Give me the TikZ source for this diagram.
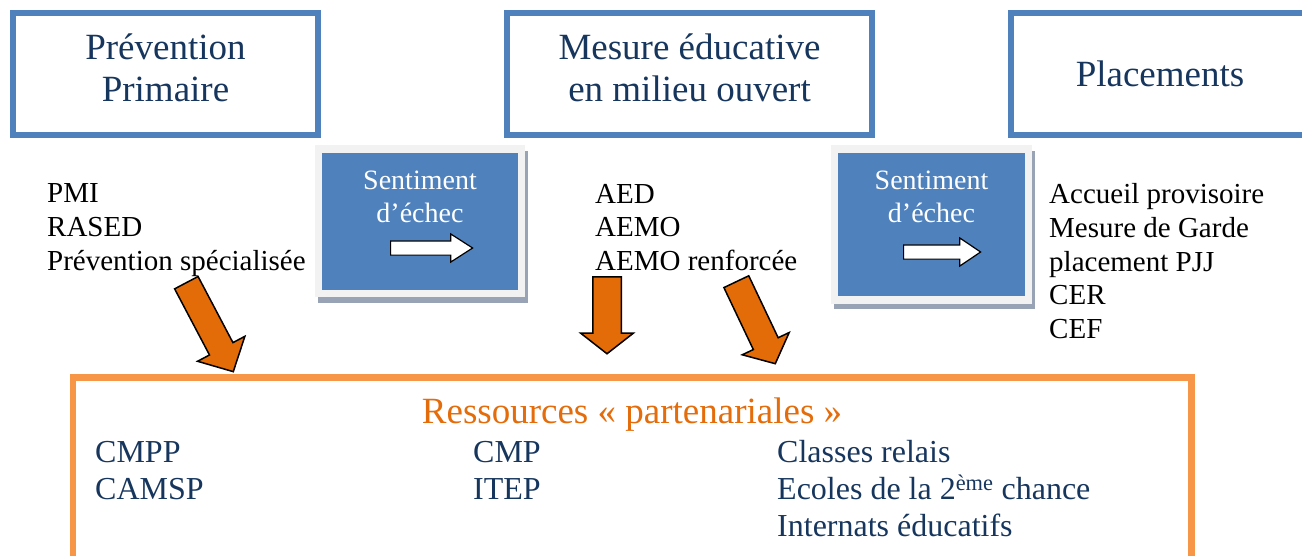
\documentclass[tikz,border=0pt]{standalone}
\usepackage{fontspec}
\setmainfont{Liberation Serif}
\usepackage{tikz}
\usetikzlibrary{shapes.arrows, positioning}

\definecolor{boxblue}{HTML}{4F81BD}
\definecolor{navy}{HTML}{17365D}
\definecolor{framegray}{HTML}{F2F2F2}
\definecolor{shadowgray}{HTML}{98A4B6}
\definecolor{resorange}{HTML}{F79646}
\definecolor{titleorange}{HTML}{E46C0A}
\definecolor{arroworange}{HTML}{E36C09}

\begin{document}
\begin{tikzpicture}[x=1pt, y=-1pt,
        topbox/.style={draw=boxblue, line width=6pt, text=navy, align=center, minimum height=122pt, font=\fontsize{37}{42}\selectfont},
        sentbox/.style={fill=boxblue, inner sep=0pt},
        senttext/.style={text=white, align=center, inner sep=0pt, font=\fontsize{28}{33}\selectfont},
        list/.style={align=left, anchor=north west, inner sep=0pt, font=\fontsize{29}{33.75}\selectfont},
        reslist/.style={align=left, anchor=north west, inner sep=0pt, text=navy, font=\fontsize{32}{37}\selectfont},
        bigarrow/.style={single arrow, anchor=tail, draw=black, line width=1.5pt, fill=arroworange, inner xsep=0pt},
        whitearrow/.style={single arrow, anchor=tail, draw=black, line width=1.2pt, fill=white, inner xsep=0pt, inner ysep=6.5pt, single arrow head extend=7pt}
    ]
        \useasboundingbox (0,0) rectangle (1302,555);
        \clip (0,0) rectangle (1302,555);

        % Top boxes
        \node[topbox, minimum width=305pt] (prev) at (165.5,74) {Prévention\\Primaire\strut};
        \node[topbox, minimum width=365pt] (mesure) at (689.5,74) {Mesure éducative\\en milieu ouvert\strut};
        \node[topbox, minimum width=298pt] (placbox) at (1160,74) {Placements};

        % Sentiment boxes
        \fill[shadowgray] (318,151) rectangle (528,303);
        \fill[framegray] (315,145) rectangle (525,297);
        \node[sentbox, minimum width=196pt, minimum height=137pt] (sent1) at (420,221.5) {};
        \node[senttext, below=18pt of sent1.north] (sent1txt) {Sentiment\\d’échec};
        \node[whitearrow, minimum height=82pt, single arrow tip angle=65.5] (warr1) at (390,248) {};

        \fill[shadowgray] (834,151) rectangle (1035,309);
        \fill[framegray] (831,145) rectangle (1032,304);
        \node[sentbox, minimum width=187pt, minimum height=143pt] (sent2) at (931.5,224.5) {};
        \node[senttext, below=18pt of sent2.north] (sent2txt) {Sentiment\\d’échec};
        \node[whitearrow, minimum height=77pt, single arrow tip angle=68] (warr2) at (903,252) {};

        % Lists
        \node[list] (primlist) at (47,183.8) {PMI\\RASED\\Prévention spécialisée};
        \node[list] (aemolist) at (595,183.8) {AED\\AEMO\\AEMO renforcée};
        \node[list] (placlist) at (1049,183.2) {Accueil provisoire\\Mesure de Garde\\placement PJJ\\CER\\CEF};

        % Ressources box
        \node[draw=resorange, line width=6.5pt, minimum width=1118.5pt, minimum height=250pt, inner sep=0pt] (res) at (632.25,502.5) {};
        \node[anchor=base, text=titleorange, inner sep=0pt, font=\fontsize{37}{42}\selectfont] (restitle) at (632,423) {Ressources «~partenariales~»};
        \node[reslist] (col1) at (95,440.8) {CMPP\\CAMSP};
        \node[reslist] (col2) at (473,440.8) {CMP\\ITEP};
        \node[reslist] (col3) at (777,440.1) {Classes relais\\Ecoles de la 2\textsuperscript{ème} chance\\Internats éducatifs};

        % Arrows
        \node[bigarrow, rotate=-62.2, minimum height=100.6pt, inner ysep=12.5pt, single arrow head extend=13.5pt, single arrow tip angle=92] (arr1) at (186,282) {};
        \node[bigarrow, rotate=-90, minimum height=77pt, inner ysep=13.5pt, single arrow head extend=12pt, single arrow tip angle=104] (arr2) at (607,276) {};
        \node[bigarrow, rotate=-64.6, minimum height=90.8pt, inner ysep=13pt, single arrow head extend=12.25pt, single arrow tip angle=99] (arr3) at (736,281) {};
    \end{tikzpicture}
\end{document}
